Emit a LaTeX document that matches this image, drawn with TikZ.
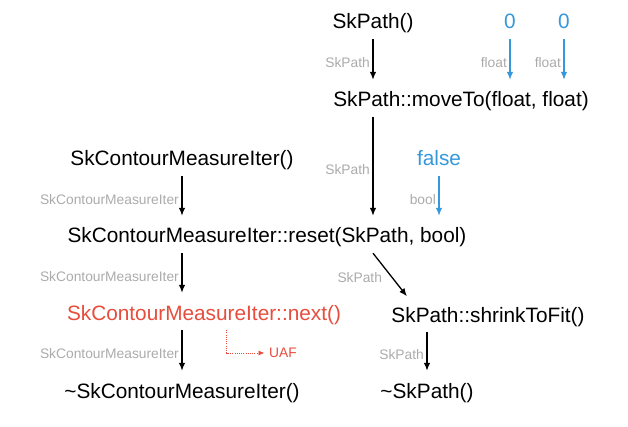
\documentclass[tikz,border=0pt]{standalone}
\usepackage{fontspec}
\setmainfont{Liberation Sans}
\usepackage{xcolor}
\usetikzlibrary{calc, arrows.meta}

\definecolor{argblue}{HTML}{3498DB}
\definecolor{uafred}{HTML}{E74C3C}
\definecolor{typegray}{HTML}{ABABAB}

\begin{document}
\begin{tikzpicture}[x=1pt, y=-1pt,
	call/.style = {font=\fontsize{20.8}{25}\selectfont, text height=14.5pt, text depth=4.5pt, inner xsep=0pt, inner ysep=5.5pt},
	arg/.style = {call, text=argblue},
	type/.style = {font=\fontsize{13.8}{16}\selectfont, text=typegray, inner sep=2.5pt},
	flow/.style = {-{Latex[length=8pt, width=6.5pt]}, line width=1.3pt, shorten >=7pt},
	argflow/.style = {flow, draw=argblue, fill=argblue},
	uafflow/.style = {-{Latex[length=6pt, width=5pt]}, uafred, line width=0.9pt, dash pattern=on 1pt off 1.2pt, shorten >=2pt}]
	\useasboundingbox (0,0) rectangle (628,427);

	\node [call] (path) at (373,24) {SkPath()};
	\node [arg] (x) at (510,24) {0};
	\node [arg] (y) at (564,24) {0};
	\node [call] (moveto) at (461,102) {SkPath::moveTo(float, float)};
	\node [call] (iter) at (182,161) {SkContourMeasureIter()};
	\node [arg] (false) at (439,161) {false};
	\node [call] (reset) at (267,238) {SkContourMeasureIter::reset(SkPath, bool)};
	\node [call, text=uafred] (next) at (204,315) {SkContourMeasureIter::next()};
	\node [call] (shrink) at (488,317) {SkPath::shrinkToFit()};
	\node [call] (iterend) at (182,393) {\char`\~SkContourMeasureIter()};
	\node [call] (pathend) at (427,393) {\char`\~SkPath()};
	\node [type, text=uafred] (uaf) at (283,353) {UAF};

	\coordinate (uaf corner) at ([xshift=-40pt]uaf.west);

	\draw [flow] (path.south) -- (path.south |- moveto.north) node [midway, type, left] {SkPath};
	\draw [argflow] (x.south) -- (x.south |- moveto.north) node [midway, type, left] {float};
	\draw [argflow] (y.south) -- (y.south |- moveto.north) node [midway, type, left] {float};
	\draw [flow] (path.south |- moveto.south) -- (path.south |- reset.north) node [midway, type, left] {SkPath};
	\draw [argflow] (false.south) -- (false.south |- reset.north) node [midway, type, left] {bool};
	\draw [flow] (iter.south) -- (iter.south |- reset.north) node [midway, type, left] {SkContourMeasureIter};
	\draw [flow] (iter.south |- reset.south) -- (iter.south |- next.north) node [midway, type, left] {SkContourMeasureIter};
	\draw [flow] (iter.south |- next.south) -- (iterend.north) node [midway, type, left] {SkContourMeasureIter};
	\draw [flow] (path.south |- reset.south) -- ([xshift=20pt]shrink.north west) node [midway, type, left=7pt] {SkPath};
	\draw [flow] (pathend.north |- shrink.south) -- (pathend.north) node [midway, type, left] {SkPath};
	\draw [uafflow] (uaf corner |- next.south) -- (uaf corner) -- (uaf.west);
\end{tikzpicture}
\end{document}
